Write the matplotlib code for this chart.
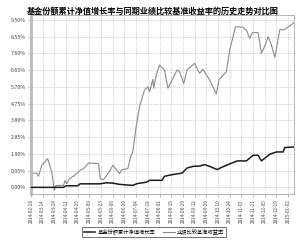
import matplotlib
matplotlib.use("Agg")
import matplotlib.pyplot as plt

plt.rcParams['font.family'] = ['Noto Sans CJK SC', 'DejaVu Sans']

title = "基金份额累计净值增长率与同期业绩比较基准收益率的历史走势对比图"
series_fund_name = "基金份额累计净值增长率"
series_bench_name = "业绩比较基准收益率"

# days since start, value in %
bench_days = [0, 2, 7, 9, 13, 20, 25, 28, 30, 39, 41, 43, 46, 51, 59, 63, 69, 81, 83, 87,
              95, 98, 103, 106, 109, 116, 120, 122, 126, 130, 136, 140, 142, 146, 147, 150,
              154, 160, 164, 168, 175, 178, 183, 187, 196, 202, 206, 214, 218, 222, 225,
              232, 234, 238, 245, 254, 258, 262, 265, 272, 276, 280, 284, 288, 292, 298,
              302, 306, 315]
bench_vals = [0.00, 0.81, 0.81, 0.63, 1.25, 1.63, 0.87, -0.17, 0.11, 0.11, 0.40, 0.21, 0.49,
              0.63, 0.97, 1.06, 1.38, 1.35, 0.49, 0.44, 0.97, 1.25, 0.97, 0.78, 1.01, 1.06,
              1.82, 2.01, 3.43, 4.57, 5.52, 5.71, 5.42, 6.13, 5.62, 6.37, 6.94, 6.66, 5.62,
              5.99, 6.66, 6.56, 5.90, 6.66, 7.04, 6.47, 6.70, 6.09, 5.71, 5.29, 6.09, 6.47,
              6.56, 7.79, 9.12, 9.09, 8.93, 8.46, 8.78, 8.78, 7.61, 8.02, 8.55, 8.08, 7.38,
              8.97, 8.93, 9.03, 9.35]

fund_days = [0, 39, 42, 56, 59, 83, 90, 98, 106, 122, 127, 139, 142, 157, 160, 169, 181,
             187, 194, 202, 208, 214, 223, 229, 236, 247, 258, 266, 272, 276, 286, 294, 302,
             304, 315]
fund_vals = [0.00, 0.00, 0.09, 0.09, 0.20, 0.20, 0.26, 0.24, 0.17, 0.11, 0.21, 0.30, 0.40,
             0.40, 0.63, 0.72, 0.81, 1.10, 1.19, 1.21, 1.29, 1.19, 1.01, 1.15, 1.29, 1.50,
             1.50, 1.82, 1.82, 1.50, 1.88, 2.01, 2.01, 2.26, 2.29]

tick_labels = ["2014-02-28", "2014-03-14", "2014-03-28", "2014-04-11", "2014-04-25",
               "2014-05-09", "2014-05-23", "2014-06-06", "2014-06-20", "2014-07-04",
               "2014-07-18", "2014-08-01", "2014-08-15", "2014-08-29", "2014-09-12",
               "2014-09-26", "2014-10-10", "2014-10-24", "2014-11-07", "2014-11-21",
               "2014-12-05", "2014-12-19", "2015-01-02"]
tick_days = [0, 14, 28, 42, 56, 70, 84, 98, 112, 126, 140, 154, 168, 182, 196, 210, 224,
             238, 252, 266, 280, 294, 308]
y_ticks = [0.00, 0.95, 1.90, 2.85, 3.80, 4.75, 5.70, 6.65, 7.60, 8.55, 9.50]

fig = plt.figure(figsize=(3.0, 2.4), dpi=100)
ax = fig.add_axes([0.103, 0.19, 0.877, 0.748])

ax.plot(fund_days, fund_vals, color='#1a1a1a', lw=1.1, label=series_fund_name, zorder=3)
ax.plot(bench_days, bench_vals, color='#8a8a8a', lw=0.8, label=series_bench_name, zorder=2)

ax.set_xlim(0, 315)
ax.set_ylim(-0.40, 9.79)
ax.set_yticks(y_ticks)
ax.set_yticklabels([f"{v:.2f}%" for v in y_ticks], fontsize=3.8, color='#444444')
ax.set_xticks(tick_days)
ax.set_xticklabels(tick_labels, rotation=90, fontsize=3.3, color='#444444')
ax.tick_params(axis='both', length=2, width=0.4, color='#888888', pad=1.5)
ax.grid(True, linestyle=(0, (1, 1.5)), color='#aaaaaa', lw=0.5)
for side in ['top', 'right', 'bottom']:
    ax.spines[side].set_color('#aaaaaa')
    ax.spines[side].set_linewidth(0.6)
ax.spines['left'].set_color('#bbbbbb')
ax.spines['left'].set_linewidth(2.0)

fig.text(0.51, 0.952, title, ha='center', va='center', fontsize=5.9, fontweight='bold')

leg = fig.legend(loc='center', bbox_to_anchor=(0.513, 0.033), ncol=2, fontsize=3.8,
                 frameon=True, fancybox=False, edgecolor='#333333', handlelength=2.2,
                 columnspacing=1.5, borderpad=0.35, handletextpad=0.4)
leg.get_frame().set_linewidth(0.6)

fig.savefig("out.png", dpi=100)
